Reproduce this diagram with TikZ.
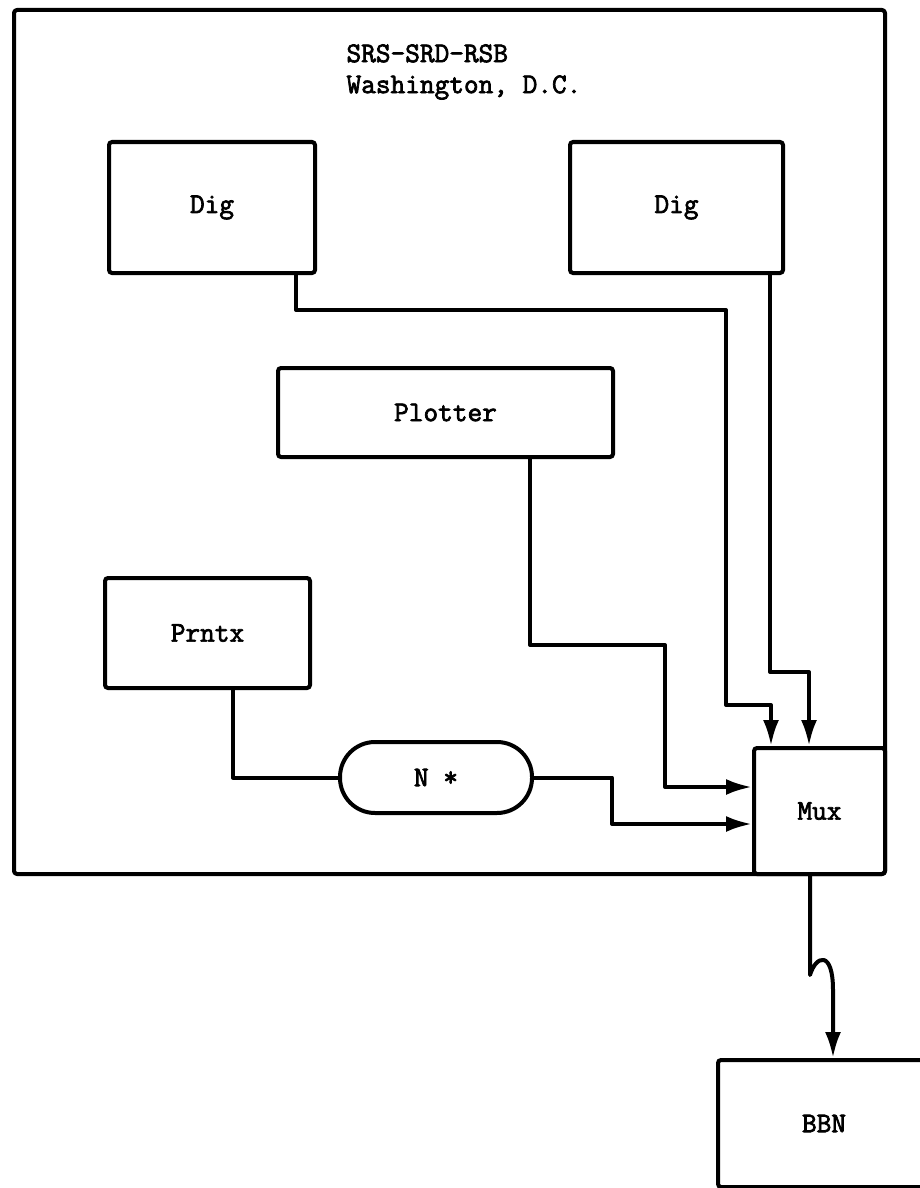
\documentclass[tikz,border=0pt]{standalone}
\usepackage{fontspec}
\setmonofont{Latin Modern Mono}[AutoFakeBold=2.5]
\usepackage{tikz}
\usetikzlibrary{arrows.meta}

\begin{document}
\begin{tikzpicture}[x=1pt, y=-1pt, >={Latex[length=26pt,width=16pt]}, every node/.style={font=\fontsize{28.5}{31}\selectfont\ttfamily\bfseries}]
    \tikzstyle{block} = [rectangle, draw, line width=4pt, rounded corners=3pt, inner sep=0pt]
    \tikzstyle{line} = [draw, line width=4pt, line join=round]
    \tikzstyle{arrow} = [line, ->]

    \clip (0,0) rectangle (920,1188);
    % site frame
    \draw [line, rounded corners=3pt] (14,10) rectangle (885,874);
    \node [align=left, anchor=west] (title) at (343,72) {SRS-SRD-RSB\\Washington, D.C.};

    \node [block, minimum width=206pt, minimum height=131pt] (dig1) at (212,207.5) {Dig};
    \node [block, minimum width=213pt, minimum height=131pt] (dig2) at (676.5,207.5) {Dig};
    \node [block, minimum width=335pt, minimum height=89pt] (plotter) at (445.5,412.5) {Plotter};
    \node [block, minimum width=205pt, minimum height=110pt] (prntx) at (207.5,633) {Prntx};
    \node [block, rounded corners=35pt, minimum width=192pt, minimum height=71pt] (nstar) at (436,777.5) {N *};
    \node [block, minimum width=131pt, minimum height=126pt] (mux) at (819.5,811) {Mux};
    \node [block, minimum width=212pt, minimum height=127pt] (bbn) at (824,1123.5) {BBN};

    \draw [arrow] ([xshift=84pt]dig1.south) |- (726,310) -- (726,705) -| ([xshift=-48.5pt]mux.north);
    \draw [arrow] ([xshift=93.5pt]dig2.south) -- (770,672) -| ([xshift=-10.5pt]mux.north);
    \draw [arrow] ([xshift=84.5pt]plotter.south) |- (665,645) |- ([yshift=24pt]mux.west);
    \draw [line] ([xshift=25.5pt]prntx.south) |- (nstar.west);
    \draw [arrow] (nstar.east) -- (612,777.5) |- ([yshift=-13pt]mux.west);
    % line to BBN
    \draw [arrow] ([xshift=-9.5pt]mux.south) -- (810,975) .. controls (816,955) and (833,950) .. (833,990) -- ([xshift=9pt]bbn.north);
\end{tikzpicture}
\end{document}
